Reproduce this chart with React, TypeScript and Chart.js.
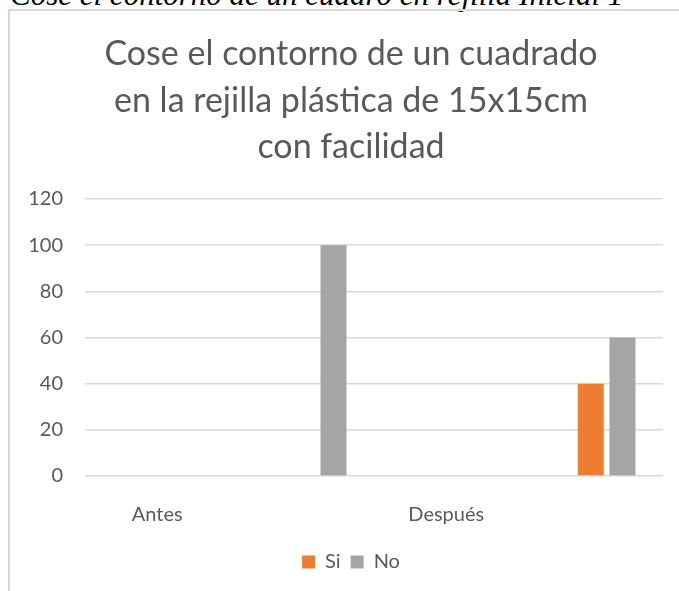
import React, { useEffect, useRef } from "react";
import { Chart, registerables } from "chart.js";

Chart.register(...registerables);

const caption = "Cose el contorno de un cuadro en rejilla Inicial 1";
const titleLines = [
  "Cose el contorno de un cuadrado",
  "en la rejilla plástica de 15x15cm",
  "con facilidad",
];
const categories = ["Antes", "", "Después", ""];
const blankSeries: (number | null)[] = [null, null, null, null];
const siValues: (number | null)[] = [null, 0, null, 40];
const noValues: (number | null)[] = [null, 100, null, 60];
const yMax = 120;
const yStep = 20;

const TEXT = "#595959";
const GRID = "#d9d9d9";
const FONT = "Lato";

export default function App() {
  const ref = useRef<HTMLCanvasElement | null>(null);

  useEffect(() => {
    if (!ref.current) return;
    const chart = new Chart(ref.current, {
      type: "bar",
      data: {
        labels: categories,
        datasets: [
          { label: "", data: blankSeries, backgroundColor: "#4472C4" },
          { label: "Si", data: siValues, backgroundColor: "#ED7D31" },
          { label: "No", data: noValues, backgroundColor: "#A5A5A5" },
        ],
      },
      options: {
        responsive: false,
        animation: false,
        datasets: {
          bar: { categoryPercentage: 0.659, barPercentage: 0.82 },
        },
        layout: { padding: { left: 0, right: 0, top: 0, bottom: 9 } },
        plugins: {
          title: {
            display: true,
            text: titleLines,
            color: TEXT,
            font: { family: FONT, size: 34, weight: "normal", lineHeight: 1.368 },
            padding: { top: 31, bottom: 28.5 },
          },
          legend: {
            position: "bottom",
            labels: {
              color: TEXT,
              font: { family: FONT, size: 20 },
              boxWidth: 13,
              boxHeight: 13,
              padding: 10,
              filter: (item: any) => item.text !== "",
            },
          },
          tooltip: { enabled: false },
        },
        scales: {
          x: {
            grid: { display: false },
            border: { display: false },
            ticks: {
              color: TEXT,
              font: { family: FONT, size: 20 },
              padding: 19,
              maxRotation: 0,
              autoSkip: false,
            },
            afterFit: (scale: any) => {
              scale.height = 66;
            },
          },
          y: {
            min: 0,
            max: yMax,
            ticks: {
              stepSize: yStep,
              color: TEXT,
              font: { family: FONT, size: 20 },
              padding: 22,
            },
            grid: { color: GRID, lineWidth: 1.5, drawTicks: false },
            border: { display: false },
            afterFit: (scale: any) => {
              scale.width = 85;
            },
          },
          yRight: {
            position: "right",
            min: 0,
            max: yMax,
            grid: { display: false, drawTicks: false },
            border: { display: false },
            ticks: { display: false },
            afterFit: (scale: any) => {
              scale.width = 39;
            },
          },
        },
      },
    });
    return () => chart.destroy();
  }, []);

  return (
    <div
      style={{
        position: "fixed",
        left: 0,
        top: 0,
        width: 679,
        height: 591,
        overflow: "hidden",
        background: "#fff",
      }}
    >
      <div
        style={{
          position: "absolute",
          left: 10,
          top: -21,
          fontFamily: '"Liberation Serif", "Times New Roman", serif',
          fontStyle: "italic",
          fontSize: 31,
          lineHeight: "31px",
          whiteSpace: "nowrap",
          color: "#000",
        }}
      >
        {caption}
      </div>
      <div
        style={{
          position: "absolute",
          left: 8,
          top: 9,
          width: 800,
          height: 800,
          border: `2px solid ${GRID}`,
        }}
      />
      <canvas
        ref={ref}
        width={702}
        height={591}
        style={{ position: "absolute", left: 0, top: 0, width: 702, height: 591 }}
      />
    </div>
  );
}
